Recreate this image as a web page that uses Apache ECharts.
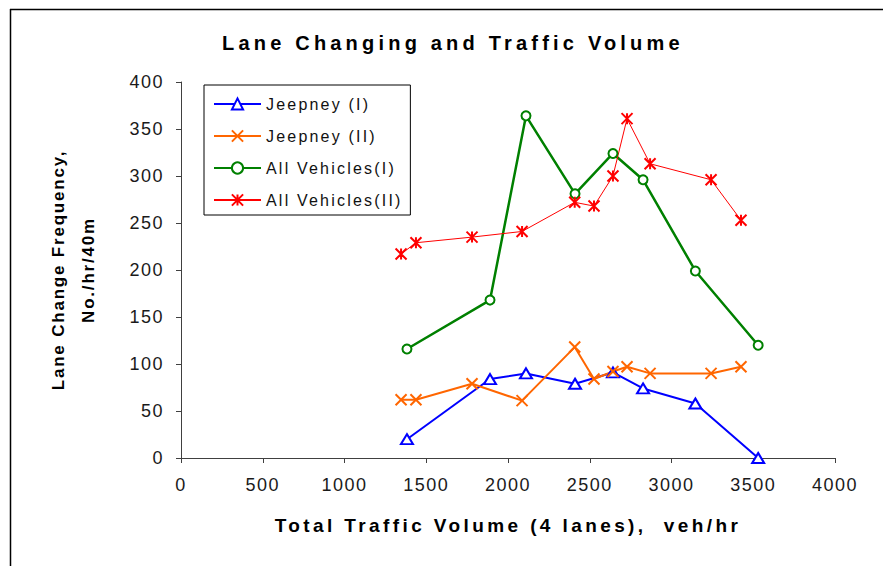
<!DOCTYPE html>
<html>
<head>
<meta charset="utf-8">
<script src="https://cdn.jsdelivr.net/npm/echarts@6/dist/echarts.min.js"></script>
<style>
  html, body { margin: 0; padding: 0; background: #fff; }
  #chart { width: 883px; height: 566px; }
  #chart text[style*="20px"] { letter-spacing: 4.2px; }
  #chart text[style*="19px"] { letter-spacing: 3.4px; }
  #chart text[style*="18px"] { letter-spacing: 1.5px; }
  #chart text[style*="17px"] { letter-spacing: 1.8px; }
  #chart text[style*="16px"] { letter-spacing: 2.2px; }
</style>
</head>
<body>
<div id="chart"></div>
<script>
// ---- data ----
const seriesNames = ['Jeepney (I)', 'Jeepney (II)', 'All Vehicles(I)', 'All Vehicles(II)'];
const volumeI  = [1382, 1890, 2110, 2410, 2642, 2826, 3146, 3530];
const jeepneyI = [20, 84, 90, 79, 91, 74, 58, 0];
const allVehI  = [116, 168, 364, 281, 324, 296, 199, 120];
const volumeII  = [1346, 1437, 1780, 2086, 2408, 2526, 2642, 2728, 2869, 3242, 3425];
const jeepneyII = [62, 62, 79, 61, 118, 84, 92, 97, 90, 90, 97];
const allVehII  = [217, 229, 235, 241, 272, 268, 300, 361, 313, 296, 253];
const xTicks = [0, 500, 1000, 1500, 2000, 2500, 3000, 3500, 4000];
const yTicks = [0, 50, 100, 150, 200, 250, 300, 350, 400];

const pair = (xs, ys) => xs.map((x, i) => [x, ys[i]]);
const FONT = 'Liberation Sans, Arial, sans-serif';

const chart = echarts.init(document.getElementById('chart'), null, { renderer: 'svg' });
chart.setOption({
  animation: false,
  backgroundColor: '#fff',
  title: {
    text: 'Lane Changing and Traffic Volume',
    left: 222, top: 33, padding: 0,
    textStyle: { fontFamily: FONT, fontSize: 20, fontWeight: 'bold', color: '#000' }
  },
  graphic: [
    { type: 'line', shape: { x1: 10, y1: 9.5, x2: 883, y2: 9.5 }, style: { stroke: '#000', lineWidth: 1.5 } },
    { type: 'line', shape: { x1: 10.5, y1: 9, x2: 10.5, y2: 566 }, style: { stroke: '#000', lineWidth: 1.5 } }
  ],
  grid: { left: 181, right: 48, top: 82, bottom: 108, containLabel: false },
  legend: {
    orient: 'vertical', left: 204, top: 85,
    itemWidth: 47, itemHeight: 14, itemGap: 16,
    padding: [11, 43, 7, 9],
    borderColor: '#000', borderWidth: 1, backgroundColor: '#fff',
    textStyle: { fontFamily: FONT, fontSize: 16, color: '#111' },
    data: seriesNames
  },
  xAxis: {
    type: 'value', min: xTicks[0], max: xTicks[xTicks.length - 1], interval: 500,
    name: 'Total Traffic Volume (4 lanes),  veh/hr',
    nameLocation: 'middle', nameGap: 58,
    nameTextStyle: { fontFamily: FONT, fontSize: 19, fontWeight: 'bold', color: '#000' },
    axisLine: { lineStyle: { color: '#404040', width: 1 } },
    axisTick: { show: true, length: 5, lineStyle: { color: '#404040' } },
    axisLabel: { margin: 18, fontFamily: FONT, fontSize: 18, color: '#1a1a1a', formatter: v => String(v) },
    splitLine: { show: false }
  },
  yAxis: {
    type: 'value', min: yTicks[0], max: yTicks[yTicks.length - 1], interval: 50,
    name: 'Lane Change Frequency,\nNo./hr/40m',
    nameLocation: 'middle', nameGap: 78, nameRotate: 90,
    nameTextStyle: { fontFamily: FONT, fontSize: 17, fontWeight: 'bold', color: '#000', lineHeight: 30, align: 'center' },
    axisLine: { show: true, lineStyle: { color: '#404040', width: 1 } },
    axisTick: { show: true, length: 5, lineStyle: { color: '#404040' } },
    axisLabel: { margin: 17, fontFamily: FONT, fontSize: 18, color: '#1a1a1a', formatter: v => String(v) },
    splitLine: { show: false }
  },
  series: [
    {
      name: seriesNames[0], type: 'line', data: pair(volumeI, jeepneyI),
      symbol: 'emptyTriangle', symbolSize: [12, 10],
      lineStyle: { color: '#0000ff', width: 2 },
      itemStyle: { color: '#0000ff', borderColor: '#0000ff', borderWidth: 2 }
    },
    {
      name: seriesNames[1], type: 'line', data: pair(volumeII, jeepneyII),
      symbol: 'path://M0,0L10,10M10,0L0,10', symbolSize: 11,
      lineStyle: { color: '#ff6600', width: 2 },
      itemStyle: { color: '#ff6600', borderColor: '#ff6600', borderWidth: 2 }
    },
    {
      name: seriesNames[2], type: 'line', data: pair(volumeI, allVehI),
      symbol: 'emptyCircle', symbolSize: 9,
      lineStyle: { color: '#008000', width: 2.5 },
      itemStyle: { color: '#008000', borderColor: '#008000', borderWidth: 2 }
    },
    {
      name: seriesNames[3], type: 'line', data: pair(volumeII, allVehII),
      symbol: 'path://M0,0L10,10M10,0L0,10M5,0L5,10', symbolSize: 11,
      lineStyle: { color: '#ff0000', width: 1 },
      itemStyle: { color: '#ff0000', borderColor: '#ff0000', borderWidth: 2 }
    }
  ]
});
</script>
</body>
</html>
